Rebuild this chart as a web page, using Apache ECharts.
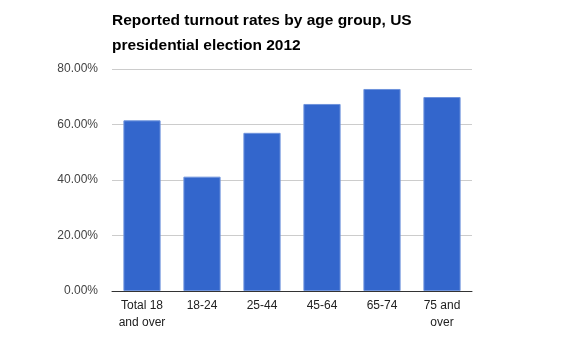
<!DOCTYPE html>
<html><head><meta charset="utf-8">
<script src="https://cdn.jsdelivr.net/npm/echarts@6/dist/echarts.min.js"></script>
<style>html,body{margin:0;padding:0;background:#fff}#c{width:583px;height:361px}</style>
</head><body><div id="c"></div>
<script>
const categories = ["Total 18\nand over", "18-24", "25-44", "45-64", "65-74", "75 and\nover"];
const turnout = [61.5, 41.2, 57.0, 67.4, 72.8, 69.9];
const yTicks = [0, 20, 40, 60, 80];
const titleText = "Reported turnout rates by age group, US\npresidential election 2012";

const chart = echarts.init(document.getElementById('c'), null, {renderer: 'canvas'});
chart.setOption({
  animation: false,
  title: {
    text: titleText, left: 107, top: 3,
    textStyle: {fontFamily: 'Liberation Sans, Arial', fontWeight: 'bold', fontSize: 15.5, color: '#000', lineHeight: 25}
  },
  grid: {left: 112, right: 111, top: 69, bottom: 70, containLabel: false},
  xAxis: {
    type: 'category', data: categories,
    axisLine: {lineStyle: {color: '#333', width: 1}},
    axisTick: {show: false},
    axisLabel: {fontFamily: 'Liberation Sans, Arial', fontSize: 12, color: '#222', lineHeight: 17, margin: 6, interval: 0}
  },
  yAxis: {
    type: 'value', min: yTicks[0], max: yTicks[yTicks.length - 1], interval: 20,
    axisLine: {show: false}, axisTick: {show: false},
    splitLine: {lineStyle: {color: '#ccc', width: 1}},
    axisLabel: {fontFamily: 'Liberation Sans, Arial', fontSize: 12, color: '#444', margin: 14,
      formatter: v => v.toFixed(2) + '%'}
  },
  series: [{
    type: 'bar', data: turnout, barCategoryGap: '38%',
    itemStyle: {color: '#3366cc', borderColor: '#6f94dd', borderWidth: 1}
  }]
});
</script></body></html>
